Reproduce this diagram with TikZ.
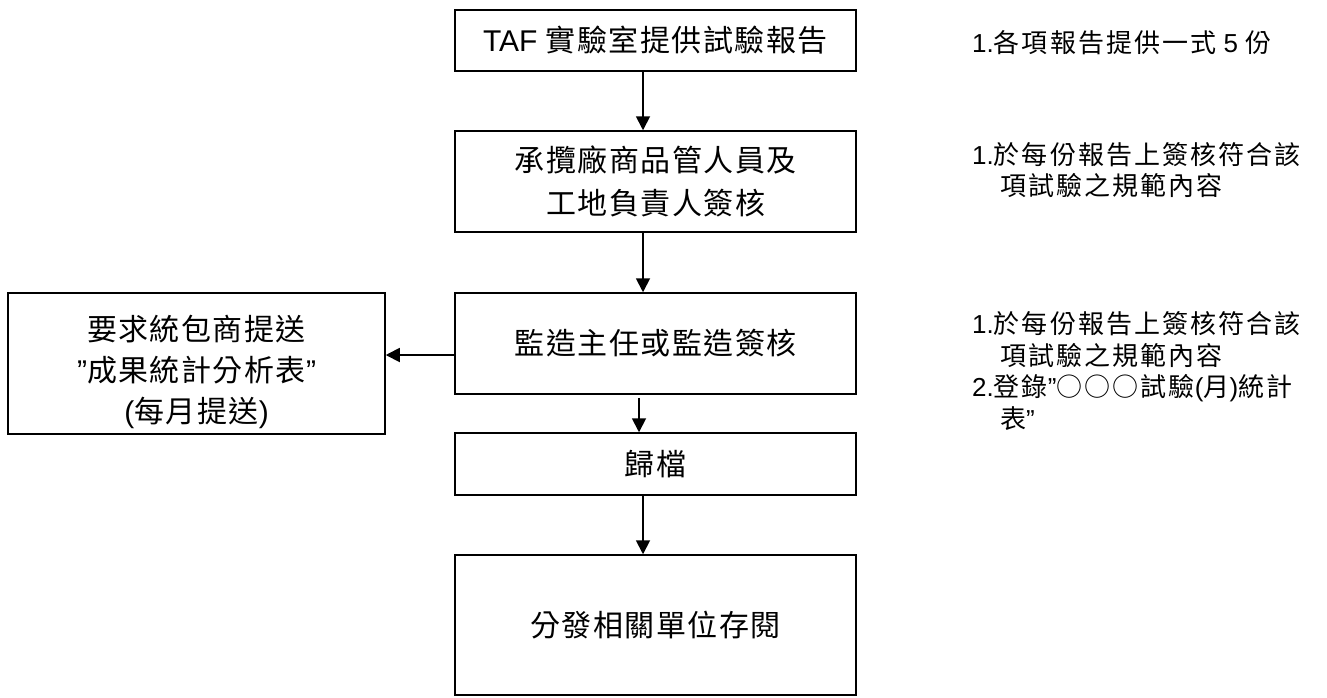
\documentclass[tikz,border=0pt]{standalone}
\usepackage{fontspec}
\setmainfont{Liberation Sans}
\newfontfamily\cjk[Scale=1.0,LetterSpace=5]{Noto Sans CJK TC}
\newfontfamily\cjkn[Scale=1.0,LetterSpace=8]{Noto Sans CJK TC}
\usetikzlibrary{arrows.meta}
\begin{document}
\begin{tikzpicture}[x=1pt,y=-1pt,
 box/.style={draw,line width=1.5pt,minimum width=401pt,inner sep=0pt,align=center,font=\fontsize{30}{43}\selectfont},
 note/.style={anchor=west,inner sep=0pt,align=left,font=\fontsize{26}{31.5}\selectfont},
 arr/.style={line width=1.8pt,-{Triangle[length=14pt,width=14pt]}}]
\useasboundingbox (0,0) rectangle (1327,697);
\node[box,minimum height=61pt] (b1) at (655.5,40.5) {TAF {\cjk 實驗室提供試驗報告}};
\node[box,minimum height=101pt] (b2) at (655.5,181.5) {{\cjk 承攬廠商品管人員及}\\{\cjk 工地負責人簽核}};
\node[box,minimum height=101pt] (b3) at (655.5,343.5) {{\cjk 監造主任或監造簽核}};
\node[box,minimum height=62pt] (b4) at (655.5,464) {{\cjk 歸檔}};
\node[box,minimum height=140pt] (b5) at (655.5,625) {{\cjk 分發相關單位存閱}};
\node[box,minimum width=377pt,minimum height=141pt,
  label={[align=center,font=\fontsize{30}{41}\selectfont,yshift=-8pt]center:{\cjk 要求統包商提送}\\"{\cjk 成果統計分析表}"\\({\cjk 每月提送})}] (lf) at (196.5,363.5) {};
\node[note] (n1) at (972,43) {1.{\cjkn 各項報告提供一式} 5 {\cjkn 份}};
\node[note] (n2) at (972,170) {1.{\cjkn 於每份報告上簽核符合該}\\\hspace*{28pt}{\cjkn 項試驗之規範內容}};
\node[note] (n3) at (972,371) {1.{\cjkn 於每份報告上簽核符合該}\\\hspace*{28pt}{\cjkn 項試驗之規範內容}\\2.{\cjkn 登錄}"{\cjkn ○○○試驗}({\cjkn 月}){\cjkn 統計}\\\hspace*{28pt}{\cjkn 表}"};
\draw[arr] ([xshift=-12.5pt]b1.south) -- ([xshift=-12.5pt]b2.north);
\draw[arr] ([xshift=-12.5pt]b2.south) -- ([xshift=-12.5pt]b3.north);
\draw[arr] ([xshift=-16.5pt,yshift=-3pt]b3.south) -- ([xshift=-16.5pt]b4.north);
\draw[arr] ([xshift=-12.5pt]b4.south) -- ([xshift=-12.5pt]b5.north);
\draw[arr] ([yshift=-11.5pt]b3.west) -- ([yshift=-11.5pt]b3.west -| lf.east);
\end{tikzpicture}
\end{document}
